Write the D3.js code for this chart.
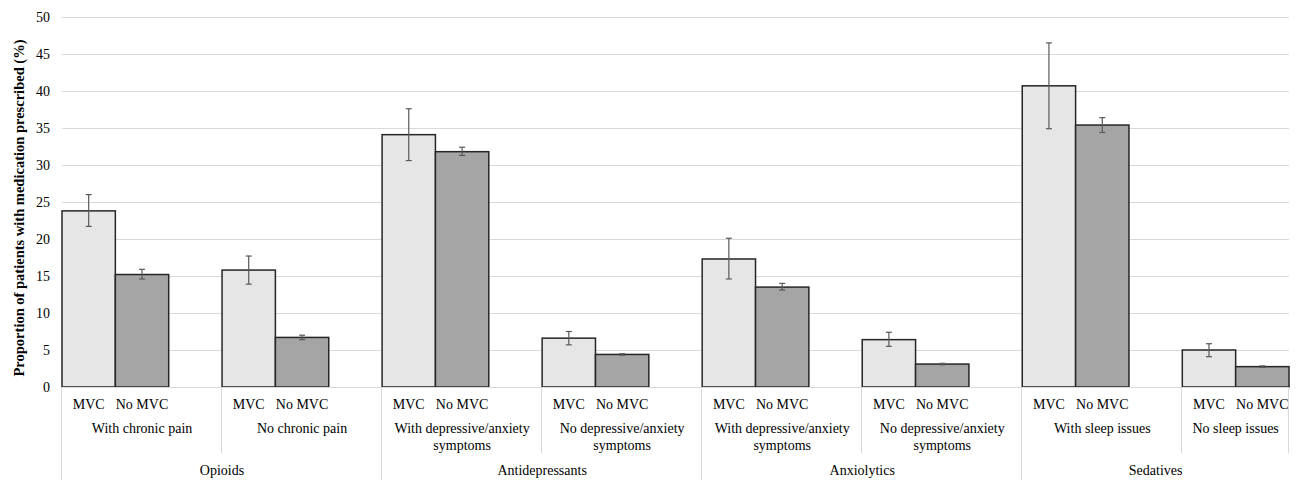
<!DOCTYPE html>
<html>
<head>
<meta charset="utf-8">
<script src="https://cdn.jsdelivr.net/npm/d3@7"></script>
<style>
  html, body { margin: 0; padding: 0; background: #fff; }
  svg { display: block; }
  text { font-family: "Liberation Serif", "Times New Roman", serif; fill: #000; }
</style>
</head>
<body>
<svg id="chart" width="1296" height="480"></svg>
<script>
// ---- data ----
const groups = ["Opioids", "Antidepressants", "Anxiolytics", "Sedatives"];
const subgroupGroup = [0, 0, 1, 1, 2, 2, 3, 3];
const subgroupLabels = [
  ["With chronic pain"],
  ["No chronic pain"],
  ["With depressive/anxiety", "symptoms"],
  ["No depressive/anxiety", "symptoms"],
  ["With depressive/anxiety", "symptoms"],
  ["No depressive/anxiety", "symptoms"],
  ["With sleep issues"],
  ["No sleep issues"]
];
const seriesNames = ["MVC", "No MVC"];
const mvcValues   = [23.8, 15.8, 34.1, 6.6, 17.3, 6.4, 40.7, 5.0];
const mvcLow      = [21.7, 13.9, 30.6, 5.7, 14.6, 5.5, 34.9, 4.1];
const mvcHigh     = [26.0, 17.7, 37.6, 7.5, 20.1, 7.4, 46.5, 5.85];
const noMvcValues = [15.2, 6.7, 31.8, 4.4, 13.5, 3.1, 35.4, 2.75];
const noMvcLow    = [14.6, 6.4, 31.3, 4.3, 13.1, 3.0, 34.4, 2.65];
const noMvcHigh   = [15.9, 7.0, 32.4, 4.5, 14.0, 3.2, 36.4, 2.85];
const yTicks = [0, 5, 10, 15, 20, 25, 30, 35, 40, 45, 50];

// ---- layout ----
const svg = d3.select("#chart");
const plotL = 62, plotR = 1289, plotT = 17, plotB = 387;

// slots: each subgroup = MVC, No MVC, blank (last subgroup has no blank)
const nSub = subgroupLabels.length;
const nSlots = nSub * 3 - 1;
const x = d3.scaleBand().domain(d3.range(nSlots)).range([plotL, plotR]).paddingInner(0).paddingOuter(0);
const y = d3.scaleLinear().domain([0, 50]).range([plotB, plotT]);

const bars = [];
for (let i = 0; i < nSub; i++) {
  bars.push({ slot: i * 3, v: mvcValues[i], lo: mvcLow[i], hi: mvcHigh[i], s: 0, sub: i });
  bars.push({ slot: i * 3 + 1, v: noMvcValues[i], lo: noMvcLow[i], hi: noMvcHigh[i], s: 1, sub: i });
}

// gridlines
svg.append("g").selectAll("line").data(yTicks.filter(d => d > 0)).join("line")
  .attr("x1", plotL).attr("x2", plotR)
  .attr("y1", d => Math.round(y(d)) + 0.5).attr("y2", d => Math.round(y(d)) + 0.5)
  .attr("stroke", "#d9d9d9").attr("stroke-width", 1);

// y axis tick labels
const yAxis = d3.axisLeft(y).tickValues(yTicks).tickSize(0).tickPadding(0);
const ya = svg.append("g").attr("transform", `translate(${plotL - 12},0)`).call(yAxis);
ya.select(".domain").remove();
ya.selectAll("text").attr("font-family", "Liberation Serif, serif").attr("font-size", 14).attr("fill", "#000").attr("dy", "0.33em");

// y axis title
svg.append("text")
  .attr("transform", `translate(24,208) rotate(-90)`)
  .attr("text-anchor", "middle")
  .attr("font-size", 14.5).attr("font-weight", "bold")
  .text("Proportion of patients with medication prescribed (%)");

// bars
const colors = ["#e6e6e6", "#a5a5a5"];
svg.append("g").selectAll("rect").data(bars).join("rect")
  .attr("x", d => x(d.slot))
  .attr("width", x.bandwidth())
  .attr("y", d => y(d.v))
  .attr("height", d => y(0) - y(d.v))
  .attr("fill", d => colors[d.s])
  .attr("stroke", "#262626").attr("stroke-width", 1.5);

// category axis line
svg.append("line").attr("x1", plotL).attr("x2", plotR).attr("y1", plotB + 0.5).attr("y2", plotB + 0.5)
  .attr("stroke", "#d9d9d9").attr("stroke-width", 1);

// error bars
const eb = svg.append("g").attr("stroke", "#595959").attr("stroke-width", 1.2);
bars.forEach(d => {
  const cx = x(d.slot) + x.bandwidth() / 2;
  eb.append("line").attr("x1", cx).attr("x2", cx).attr("y1", y(d.hi)).attr("y2", y(d.lo));
  eb.append("line").attr("x1", cx - 3).attr("x2", cx + 3).attr("y1", y(d.hi)).attr("y2", y(d.hi));
  eb.append("line").attr("x1", cx - 3).attr("x2", cx + 3).attr("y1", y(d.lo)).attr("y2", y(d.lo));
});

// series labels under bars
svg.append("g").selectAll("text").data(bars).join("text")
  .attr("x", d => x(d.slot) + x.bandwidth() / 2)
  .attr("y", 409)
  .attr("text-anchor", "middle").attr("font-size", 14)
  .text(d => seriesNames[d.s]);

// subgroup extents
function subStart(i) { return x(i * 3); }
function subEnd(i) { return i === nSub - 1 ? plotR : x(i * 3 + 2) + x.bandwidth(); }

// subgroup labels
subgroupLabels.forEach((lines, i) => {
  const cx = (subStart(i) + subEnd(i)) / 2;
  lines.forEach((ln, k) => {
    svg.append("text").attr("x", cx).attr("y", 433 + k * 17)
      .attr("text-anchor", "middle").attr("font-size", 14).text(ln);
  });
});

// group labels
groups.forEach((g, gi) => {
  const subs = d3.range(nSub).filter(i => subgroupGroup[i] === gi);
  const x0 = subStart(subs[0]), x1 = subEnd(subs[subs.length - 1]);
  svg.append("text").attr("x", (x0 + x1) / 2).attr("y", 475)
    .attr("text-anchor", "middle").attr("font-size", 14).text(g);
});

// separators
const sep = svg.append("g").attr("stroke", "#d9d9d9").attr("stroke-width", 1);
sep.append("line").attr("x1", plotL - 0.5).attr("x2", plotL - 0.5).attr("y1", plotB).attr("y2", 480);
for (let i = 1; i < nSub; i++) {
  const sx = Math.round(subStart(i)) - 0.5;
  const isGroup = subgroupGroup[i] !== subgroupGroup[i - 1];
  sep.append("line").attr("x1", sx).attr("x2", sx).attr("y1", plotB).attr("y2", isGroup ? 480 : 453);
}
sep.append("line").attr("x1", plotR - 0.5).attr("x2", plotR - 0.5).attr("y1", plotB).attr("y2", 453);
</script>
</body>
</html>
